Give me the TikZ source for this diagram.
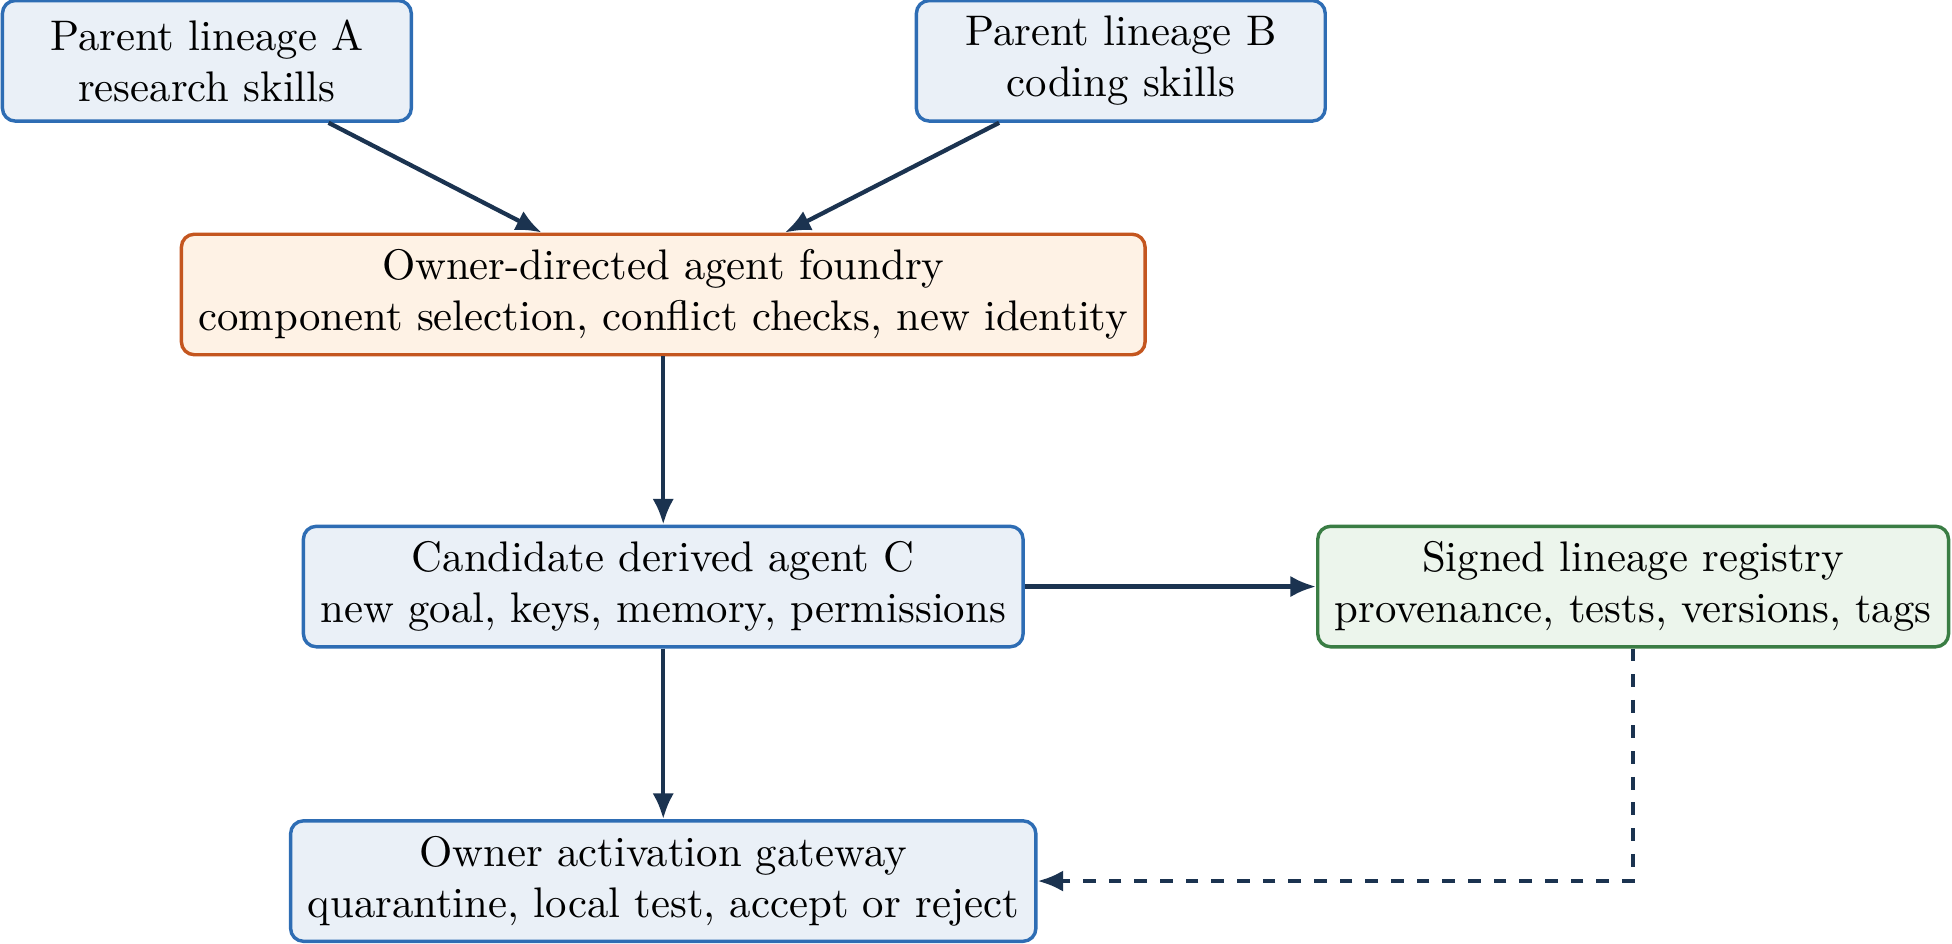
\documentclass[tikz,border=0pt]{standalone}
\usetikzlibrary{arrows.meta,positioning,calc}
\definecolor{bluefill}{HTML}{EAF0F7}
\definecolor{bluedraw}{HTML}{2E6DB4}
\definecolor{orangefill}{HTML}{FEF2E5}
\definecolor{orangedraw}{HTML}{C4561F}
\definecolor{greenfill}{HTML}{ECF5EC}
\definecolor{greendraw}{HTML}{3A7D44}
\definecolor{edgecol}{HTML}{1B3350}
\begin{document}
\begin{tikzpicture}[box/.style={draw=bluedraw, fill=bluefill, rounded corners=3pt, line width=0.8pt, align=center, minimum width=3.36cm, minimum height=0.99cm, inner xsep=4pt, inner ysep=3pt}, foundrybox/.style={box, draw=orangedraw, fill=orangefill}, registrybox/.style={box, draw=greendraw, fill=greenfill}, flow/.style={draw=edgecol, line width=1pt, -{Latex[length=6pt,width=5pt]}}]
	\useasboundingbox (0,0) rectangle (16.04,-7.75);
	\node[box] (parentA) at (1.70,-0.50) {Parent lineage A\\research skills};
	\node[box] (parentB) at (9.21,-0.50) {Parent lineage B\\coding skills};
	\node[foundrybox] (foundry) at (5.45,-2.42) {Owner-directed agent foundry\\component selection, conflict checks, new identity};
	\node[box] (candidate) at (5.45,-4.82) {Candidate derived agent C\\new goal, keys, memory, permissions};
	\node[registrybox] (registry) at (13.42,-4.82) {Signed lineage registry\\provenance, tests, versions, tags};
	\node[box] (gateway) at (5.45,-7.24) {Owner activation gateway\\quarantine, local test, accept or reject};
	\draw[flow] ([xshift=1cm]parentA.south) -- ([xshift=-1cm]foundry.north);
	\draw[flow] ([xshift=-1cm]parentB.south) -- ([xshift=1cm]foundry.north);
	\draw[flow] (foundry) -- (candidate);
	\draw[flow] (candidate) -- (registry);
	\draw[flow] (candidate) -- (gateway);
	\draw[flow, dashed] (registry.south) |- (gateway.east);
\end{tikzpicture}
\end{document}
